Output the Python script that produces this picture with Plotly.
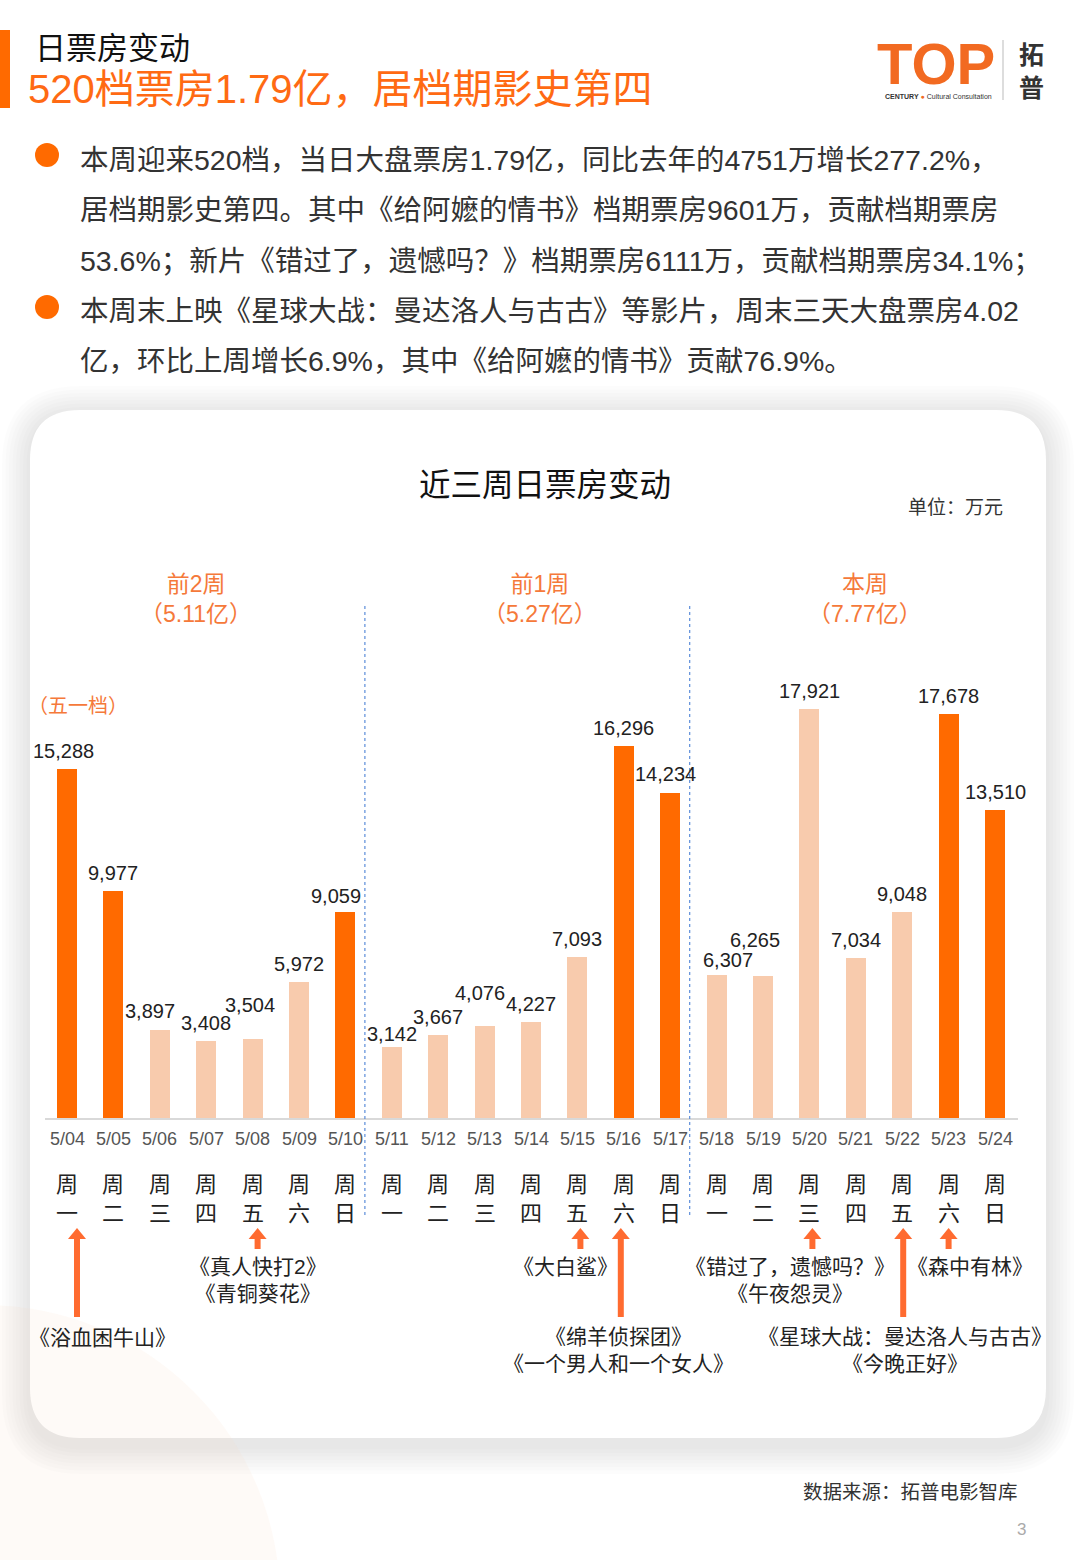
import plotly.graph_objects as go

W, H = 1080, 1560

# ── data ────────────────────────────────────────────────────────────────
dates = ['5/04', '5/05', '5/06', '5/07', '5/08', '5/09', '5/10',
         '5/11', '5/12', '5/13', '5/14', '5/15', '5/16', '5/17',
         '5/18', '5/19', '5/20', '5/21', '5/22', '5/23', '5/24']
weekdays = ['一', '二', '三', '四', '五', '六', '日',
            '一', '二', '三', '四', '五', '六', '日',
            '一', '二', '三', '四', '五', '六', '日']
box_office = [15288, 9977, 3897, 3408, 3504, 5972, 9059,
              3142, 3667, 4076, 4227, 7093, 16296, 14234,
              6307, 6265, 17921, 7034, 9048, 17678, 13510]
highlight = [1, 1, 0, 0, 0, 0, 1,
             0, 0, 0, 0, 0, 1, 1,
             0, 0, 0, 0, 0, 1, 1]
week_names = ['前2周', '前1周', '本周']
week_totals = ['5.11亿', '5.27亿', '7.77亿']

# release markers: day index, long arrow?, films
release_day = [0, 4, 11, 12, 16, 18, 19]
release_long = [True, False, False, True, False, True, False]
release_films = [
    ['《浴血困牛山》'],
    ['《真人快打2》', '《青铜葵花》'],
    ['《大白鲨》'],
    ['《绵羊侦探团》', '《一个男人和一个女人》'],
    ['《错过了，遗憾吗？》', '《午夜怨灵》'],
    ['《星球大战：曼达洛人与古古》', '《今晚正好》'],
    ['《森中有林》'],
]

bullets = [
    ['本周迎来520档，当日大盘票房1.79亿，同比去年的4751万增长277.2%，',
     '居档期影史第四。其中《给阿嬷的情书》档期票房9601万，贡献档期票房',
     '53.6%；新片《错过了，遗憾吗？》档期票房6111万，贡献档期票房34.1%；'],
    ['本周末上映《星球大战：曼达洛人与古古》等影片，周末三天大盘票房4.02',
     '亿，环比上周增长6.9%，其中《给阿嬷的情书》贡献76.9%。'],
]

# ── styling / geometry ──────────────────────────────────────────────────
DARK = '#FF6A00'
LIGHT = '#F8CBAD'
ACCENT = '#F5793A'
ARROW = '#FF6B30'
TXT = '#222222'
FONT = 'Liberation Sans, Noto Sans CJK SC, sans-serif'
CJK = 'Noto Sans CJK SC, sans-serif'

X0_PX, STEP_PX = 67, 46.4          # pixel centre of first bar, bar pitch
BASE_PX = 1119                      # pixel row of zero line
PX_PER_UNIT = 350 / 15288


def xd(px):
    return (px - X0_PX) / STEP_PX


def yd(py):
    return (BASE_PX - py) / PX_PER_UNIT


def pxp(px):
    return px / W


def pyp(py):
    return 1 - py / H


# label nudges (dx px, gap above bar px)
label_nudge = {0: (-4, 18), 2: (-10, 19), 4: (-3, 34), 6: (-9, 16), 7: (0, 13),
               9: (-5, 33), 13: (-5, 19), 14: (11, 15), 15: (-8, 36)}

fig = go.Figure()

fig.add_trace(go.Bar(
    x=list(range(len(dates))),
    y=box_office,
    width=0.43,
    marker=dict(color=[DARK if h else LIGHT for h in highlight], line=dict(width=0)),
    hovertemplate='%{customdata}<br>%{y:,}万<extra></extra>',
    customdata=dates,
    showlegend=False,
))

ann = []
shapes = []


def rrect(x0, y0, x1, y1, r):
    a, b, c, d = pxp(x0), pyp(y0), pxp(x1), pyp(y1)
    rx, ry = r / W, r / H
    return (f'M{a + rx},{b} L{c - rx},{b} Q{c},{b} {c},{b - ry} '
            f'L{c},{d + ry} Q{c},{d} {c - rx},{d} L{a + rx},{d} '
            f'Q{a},{d} {a},{d + ry} L{a},{b - ry} Q{a},{b} {a + rx},{b} Z')


# card shadow + card
for k in range(8, 0, -1):
    e = 3.5 * k
    shapes.append(dict(type='path', xref='paper', yref='paper', layer='below',
                       path=rrect(30 - e, 410 - e + 4, 1046 + e, 1438 + e + 8, 50 + e),
                       fillcolor='rgba(0,0,0,0.011)', line=dict(width=0)))
shapes.append(dict(type='path', xref='paper', yref='paper', layer='below',
                   path=rrect(30, 410, 1046, 1438, 50),
                   fillcolor='#FFFFFF', line=dict(width=0)))
# faint peach arc bottom-left
shapes.append(dict(type='circle', xref='paper', yref='paper', layer='below',
                   x0=pxp(-310), x1=pxp(280), y0=pyp(1895), y1=pyp(1305),
                   fillcolor='rgba(250,215,190,0.13)', line=dict(width=0)))

# header accent bar
shapes.append(dict(type='rect', xref='paper', yref='paper', layer='below',
                   x0=0, x1=pxp(10), y0=pyp(108), y1=pyp(30),
                   fillcolor=DARK, line=dict(width=0)))
# logo divider
shapes.append(dict(type='line', xref='paper', yref='paper',
                   x0=pxp(1003), x1=pxp(1003), y0=pyp(100), y1=pyp(40),
                   line=dict(color='#BBBBBB', width=1)))

# bullet dots
for yb in [155, 307]:
    shapes.append(dict(type='circle', xref='paper', yref='paper',
                       x0=pxp(35), x1=pxp(59), y0=pyp(yb + 12), y1=pyp(yb - 12),
                       fillcolor=DARK, line=dict(width=0)))

# baseline and week dividers
shapes.append(dict(type='line', xref='x', yref='y', x0=xd(45), x1=xd(1018), y0=0, y1=0,
                   line=dict(color='#D9D9D9', width=2)))
for xdiv in [6.5, 13.5]:
    shapes.append(dict(type='line', xref='x', yref='y', x0=xdiv - 0.08, x1=xdiv - 0.08,
                       y0=yd(1215), y1=yd(605),
                       line=dict(color='#5B8DD9', width=1.2, dash='dot')))

# header texts
ann.append(dict(text='日票房变动', x=pxp(33), y=pyp(45), xanchor='left', yanchor='middle',
                font=dict(family=CJK, size=31, color='#111111')))
ann.append(dict(text='520档票房1.79亿，居档期影史第四', x=pxp(26), y=pyp(89),
                xanchor='left', yanchor='middle',
                font=dict(family=FONT, size=40, color='#FF6A13')))
# logo
ann.append(dict(text='<b>TOP</b>', x=pxp(936), y=pyp(64), xanchor='center', yanchor='middle',
                font=dict(family='Liberation Sans, sans-serif', size=58, color='#F26A21')))
ann.append(dict(text="<b>CENTURY</b> <span style='color:#F26A21'>●</span> Cultural Consultation",
                x=pxp(938), y=pyp(96), xanchor='center', yanchor='middle',
                font=dict(family='Liberation Sans, sans-serif', size=7, color='#333333')))
ann.append(dict(text='<b>拓</b><br><b>普</b>', x=pxp(1031), y=pyp(70), xanchor='center',
                yanchor='middle', font=dict(family=CJK, size=25, color='#333333')))

# bullet text
line_y = [[160, 210, 261], [311, 361]]
for block, ys in zip(bullets, line_y):
    for t, yy in zip(block, ys):
        ann.append(dict(text=t, x=pxp(78), y=pyp(yy), xanchor='left', yanchor='middle',
                        font=dict(family=FONT, size=28.5, color='#333333')))

# chart title + unit
ann.append(dict(text='近三周日票房变动', x=pxp(545), y=pyp(482), xanchor='center', yanchor='middle',
                font=dict(family=CJK, size=31.5, color='#111111')))
ann.append(dict(text='单位：万元', x=pxp(1005), y=pyp(506), xanchor='right', yanchor='middle',
                font=dict(family=CJK, size=19, color='#333333')))

# week labels
for name, tot, cx in zip(week_names, week_totals, [196, 540, 865]):
    ann.append(dict(text=f'{name}<br>（{tot}）', x=pxp(cx), y=pyp(599), xanchor='center',
                    yanchor='middle',
                    font=dict(family=FONT, size=23, color=ACCENT)))
ann.append(dict(text='（五一档）', x=pxp(78), y=pyp(706), xanchor='center', yanchor='middle',
                font=dict(family=FONT, size=20, color=ACCENT)))

# value labels
for i, v in enumerate(box_office):
    dx, gap = label_nudge.get(i, (0, 18))
    ann.append(dict(text=f'{v:,}', x=i, y=v, xref='x', yref='y', xanchor='center',
                    yanchor='middle', xshift=dx, yshift=gap,
                    font=dict(family=FONT, size=20, color=TXT)))

# date + weekday labels
for i, (d, wd) in enumerate(zip(dates, weekdays)):
    ann.append(dict(text=d, x=i, y=pyp(1139), xref='x', yref='paper', xanchor='center',
                    yanchor='middle', font=dict(family=FONT, size=18, color='#555555')))
    ann.append(dict(text='周', x=i, y=pyp(1182), xref='x', yref='paper',
                    xanchor='center', yanchor='middle',
                    font=dict(family=CJK, size=22, color=TXT)))
    ann.append(dict(text=wd, x=i, y=pyp(1211), xref='x', yref='paper',
                    xanchor='center', yanchor='middle',
                    font=dict(family=CJK, size=22, color=TXT)))

# release arrows (shaft + head) and film names
arrow_dx = {0: 10, 4: 5, 11: 3, 12: -3, 16: 3, 18: 1, 19: 0}
film_pos = {0: (102, 1337), 4: (258, 1280), 11: (565, 1266), 12: (618, 1350),
            16: (790, 1280), 18: (905, 1350), 19: (970, 1266)}
TIP, HEAD_H, HEAD_W, SHAFT_W = 1228, 11, 18, 6
for day, long_, films in zip(release_day, release_long, release_films):
    cx = day + arrow_dx[day] / STEP_PX
    bottom = 1317 if long_ else 1249
    hw, sw = HEAD_W / 2 / STEP_PX, SHAFT_W / 2 / STEP_PX
    shapes.append(dict(type='rect', xref='x', yref='paper', x0=cx - sw, x1=cx + sw,
                       y0=pyp(bottom), y1=pyp(TIP + HEAD_H - 1),
                       fillcolor=ARROW, line=dict(width=0)))
    shapes.append(dict(type='path', xref='x', yref='paper',
                       path=f'M{cx - hw},{pyp(TIP + HEAD_H)} L{cx},{pyp(TIP)} '
                            f'L{cx + hw},{pyp(TIP + HEAD_H)} Z',
                       fillcolor=ARROW, line=dict(width=0)))
    fx, fy = film_pos[day]
    ann.append(dict(text='<br>'.join(films), x=pxp(fx), y=pyp(fy), xanchor='center',
                    yanchor='middle', font=dict(family=FONT, size=21, color=TXT)))

# footer
ann.append(dict(text='数据来源：拓普电影智库', x=pxp(1020), y=pyp(1490), xanchor='right',
                yanchor='middle', font=dict(family=CJK, size=19.5, color='#333333')))
ann.append(dict(text='3', x=pxp(1028), y=pyp(1529), xanchor='right', yanchor='middle',
                font=dict(family=FONT, size=17, color='#AAAAAA')))

for a in ann:
    a.setdefault('xref', 'paper')
    a.setdefault('yref', 'paper')
    a.setdefault('showarrow', False)

fig.update_layout(
    width=W, height=H, autosize=False,
    margin=dict(l=0, r=0, t=0, b=0),
    paper_bgcolor='#FFFFFF',
    plot_bgcolor='rgba(0,0,0,0)',
    xaxis=dict(range=[xd(0), xd(W)], visible=False, fixedrange=True),
    yaxis=dict(range=[yd(H), yd(0)], visible=False, fixedrange=True),
    shapes=shapes,
    annotations=ann,
    bargap=0,
    font=dict(family=FONT, color=TXT),
)

fig.write_html('out.html', config={'displayModeBar': False},
               post_script="document.body.style.margin='0';")
